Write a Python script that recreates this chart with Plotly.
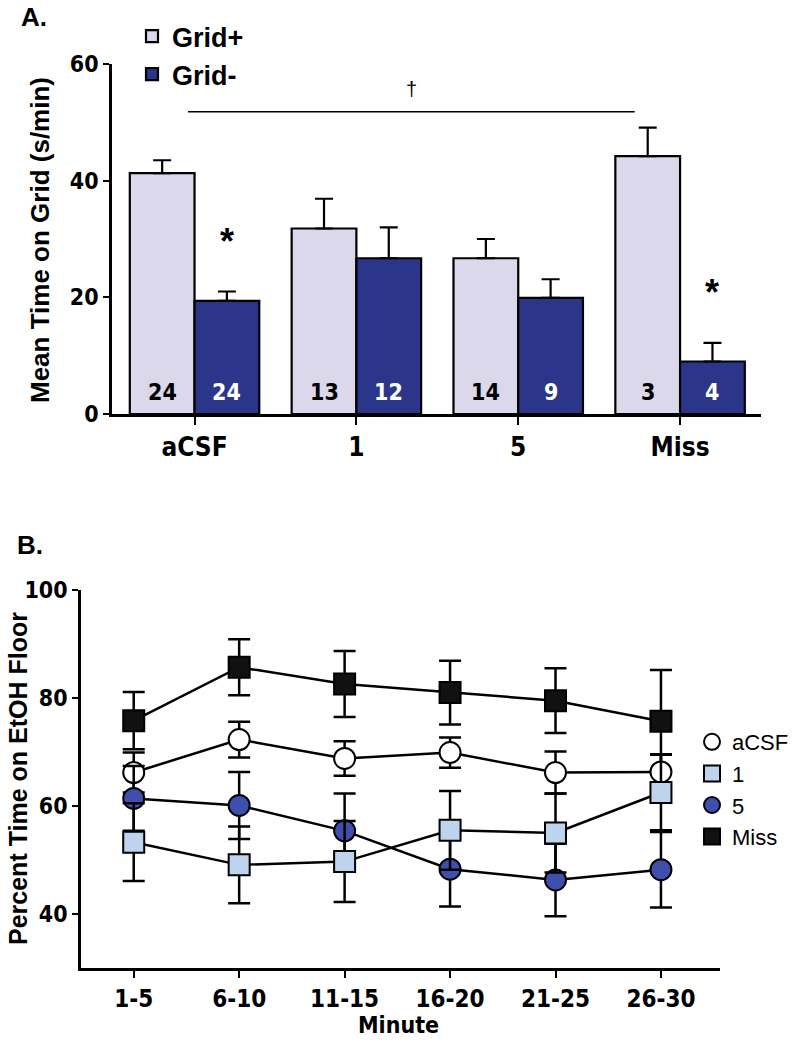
import plotly.graph_objects as go

# ---------- Panel A data ----------
groups = ["aCSF", "1", "5", "Miss"]
grid_plus = [41.3, 31.8, 26.7, 44.2]
grid_plus_err = [2.2, 5.1, 3.3, 4.9]
grid_minus = [19.4, 26.7, 19.9, 9.0]
grid_minus_err = [1.6, 5.3, 3.2, 3.2]
n_plus = ["24", "13", "14", "3"]
n_minus = ["24", "12", "9", "4"]
yticks_a = [0, 20, 40, 60]

# ---------- Panel B data ----------
minutes = ["1-5", "6-10", "11-15", "16-20", "21-25", "26-30"]
acsf = [66.2, 72.3, 68.8, 69.9, 66.2, 66.3]
acsf_err = [3.7, 3.3, 3.2, 2.8, 3.9, 3.3]
dose1 = [53.3, 49.1, 49.7, 55.5, 55.0, 62.5]
dose1_err = [7.2, 7.1, 7.5, 7.3, 7.3, 7.0]
dose5 = [61.4, 60.1, 55.4, 48.3, 46.3, 48.2]
dose5_err = [6.0, 6.2, 6.9, 6.9, 6.7, 7.0]
miss = [75.8, 85.7, 82.6, 81.0, 79.5, 75.7]
miss_err = [5.3, 5.2, 6.1, 5.9, 6.0, 9.5]
yticks_b = [40, 60, 80, 100]

C_PLUS = "#DAD8EA"
C_MINUS = "#2B368A"
C_1 = "#BDD3EE"
C_5 = "#3F4FAE"
C_MISS = "#111111"

NARROW = "DejaVu Sans Condensed, Liberation Sans Narrow, Arial Narrow, Liberation Sans, Arial, sans-serif"
ARIAL = "Liberation Sans, Arial, sans-serif"

fig = go.Figure()

# ---- Panel A bars ----
fig.add_trace(go.Bar(
    x=groups, y=grid_plus, name="Grid+",
    marker=dict(color=C_PLUS, line=dict(color="black", width=2.2)),
    error_y=dict(type="data", array=grid_plus_err, arrayminus=[0]*4, symmetric=False,
                 color="black", thickness=2.2, width=9),
    xaxis="x", yaxis="y", legend="legend",
))
fig.add_trace(go.Bar(
    x=groups, y=grid_minus, name="Grid-",
    marker=dict(color=C_MINUS, line=dict(color="black", width=2.2)),
    error_y=dict(type="data", array=grid_minus_err, arrayminus=[0]*4, symmetric=False,
                 color="black", thickness=2.2, width=9),
    xaxis="x", yaxis="y", legend="legend",
))

# ---- Panel B: connecting lines first, then markers with error bars ----
series = [
    ("Miss", miss, miss_err, "square", C_MISS, 4),
    ("aCSF", acsf, acsf_err, "circle", "white", 1),
    ("5", dose5, dose5_err, "circle", C_5, 3),
    ("1", dose1, dose1_err, "square", C_1, 2),
]
for name, y, err, sym, fill, rank in series:
    fig.add_trace(go.Scatter(
        x=minutes, y=y, mode="lines", line=dict(color="black", width=2.5),
        showlegend=False, hoverinfo="skip", xaxis="x2", yaxis="y2",
    ))
for name, y, err, sym, fill, rank in series:
    fig.add_trace(go.Scatter(
        x=minutes, y=y, name=name, mode="markers",
        marker=dict(symbol=sym, size=21, color=fill, line=dict(color="black", width=2)),
        error_y=dict(type="data", array=err, color="black", thickness=2.5, width=11),
        xaxis="x2", yaxis="y2", legend="legend2", legendrank=rank,
    ))

def ann(x, y, text, size, family=ARIAL, color="black", weight="normal", xref="paper", yref="paper", **kw):
    return dict(x=x, y=y, xref=xref, yref=yref, text=text, showarrow=False,
                xanchor="center", yanchor="middle",
                font=dict(family=family, size=size, color=color, weight=weight), **kw)

annotations = []
# n labels inside bars
for i, (a, b) in enumerate(zip(n_plus, n_minus)):
    annotations.append(ann(i - 0.2, 3.7, a, 23, NARROW, "black", "bold", "x", "y"))
    annotations.append(ann(i + 0.2, 3.7, b, 23, NARROW, "white", "bold", "x", "y"))
# significance stars
for i in [0, 3]:
    annotations.append(ann(i + 0.2, grid_minus[i] + grid_minus_err[i] + 8.6, "*", 36,
                           ARIAL, "black", "bold", "x", "y"))
# dagger
annotations.append(ann(1.34, 55.8, "†", 20, ARIAL, "black", "normal", "x", "y"))
# panel labels and axis titles
annotations += [
    ann(34 / 804, 1 - 17 / 1050, "A.", 26, ARIAL, "black", "bold"),
    ann(40 / 804, 1 - 240 / 1050, "Mean Time on Grid (s/min)", 26, ARIAL, "black", "bold", textangle=-90),
    ann(30 / 804, 1 - 545 / 1050, "B.", 26, ARIAL, "black", "bold"),
    ann(18 / 804, 1 - 779 / 1050, "Percent Time on EtOH Floor", 25, ARIAL, "black", "bold", textangle=-90),
    ann(398 / 804, 1 - 1025 / 1050, "Minute", 23, NARROW, "black", "bold"),
]

fig.update_layout(
    width=804, height=1050,
    margin=dict(l=0, r=0, t=0, b=0, autoexpand=False),
    paper_bgcolor="white", plot_bgcolor="white",
    barmode="group", bargap=0.2, bargroupgap=0,
    showlegend=True,
    annotations=annotations,
    shapes=[dict(type="line", xref="x", yref="y", x0=-0.04, x1=2.72, y0=51.8, y1=51.8,
                 line=dict(color="black", width=1.5))],
    xaxis=dict(domain=[112 / 804, 761 / 804], range=[-0.51, 3.5], type="category",
               showline=True, linecolor="black", linewidth=2.5, ticks="outside", ticklen=8,
               tickwidth=2.2, tickcolor="black", showgrid=False, zeroline=False,
               tickfont=dict(family=NARROW, size=26, color="black", weight="bold"), anchor="y"),
    yaxis=dict(domain=[1 - 414 / 1050, 1 - 64 / 1050], range=[0, 60], tickvals=yticks_a,
               showline=True, linecolor="black", linewidth=2.5, ticks="outside", ticklen=6,
               tickwidth=2.2, tickcolor="black", showgrid=False, zeroline=False,
               tickfont=dict(family=NARROW, size=23, color="black", weight="bold"), anchor="x"),
    xaxis2=dict(domain=[81 / 804, 720 / 804], range=[-0.5, 5.56], type="category",
                showline=True, linecolor="black", linewidth=2.5, ticks="outside", ticklen=7,
                tickwidth=2.2, tickcolor="black", showgrid=False, zeroline=False,
                tickfont=dict(family=NARROW, size=24, color="black", weight="bold"), anchor="y2"),
    yaxis2=dict(domain=[1 - 968 / 1050, 1 - 590 / 1050], range=[30, 100], tickvals=yticks_b,
                showline=True, linecolor="black", linewidth=2.5, ticks="outside", ticklen=6,
                tickwidth=2.2, tickcolor="black", showgrid=False, zeroline=False,
                tickfont=dict(family=NARROW, size=23, color="black", weight="bold"), anchor="x2"),
    legend=dict(x=132 / 804, y=1 - 12 / 1050, xanchor="left", yanchor="top",
                bgcolor="rgba(0,0,0,0)", traceorder="normal",
                font=dict(family=ARIAL, size=27, color="black", weight="bold")),
    legend2=dict(x=692 / 804, y=1 - 721 / 1050, xanchor="left", yanchor="top",
                 bgcolor="rgba(0,0,0,0)", traceorder="normal",
                 font=dict(family=ARIAL, size=22, color="black")),
)

fig.write_html("out.html", config={"displayModeBar": False},
               post_script="document.body.style.margin='0';")
